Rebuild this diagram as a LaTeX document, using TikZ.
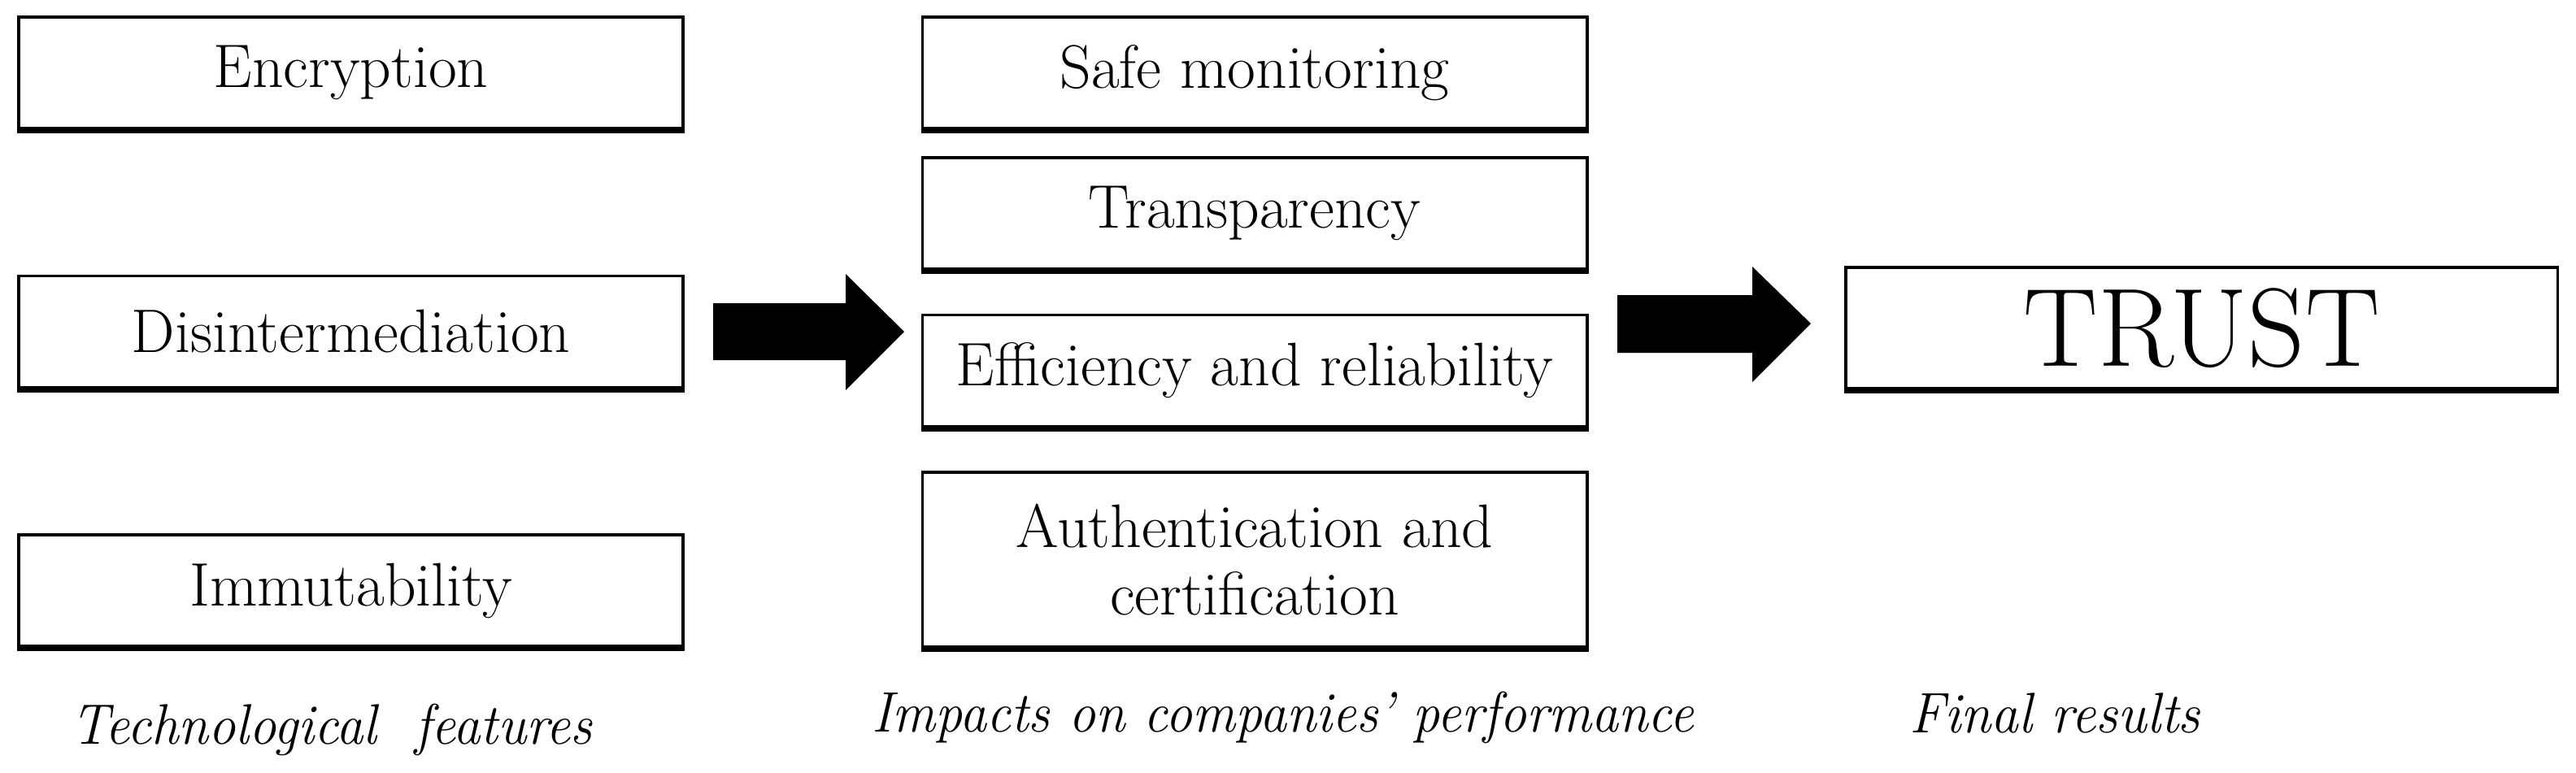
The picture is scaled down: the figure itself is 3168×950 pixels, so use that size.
\documentclass[tikz,border=0pt]{standalone}
\begin{document}
\begin{tikzpicture}[x=0.01cm,y=-0.01cm,
  box/.style={draw, line width=1pt, minimum width=8.17cm, minimum height=1.37cm, inner sep=0pt, align=center, font=\fontsize{21.5}{23.5}\selectfont},
  caption/.style={anchor=base, font=\fontsize{20}{24}\selectfont\itshape},
  blockarrow/.style={fill=black}]
\useasboundingbox (0,0) rectangle (3168,950);
% column 1
\node[box] (enc) at (431.5,89.5) {Encryption};
\node[box] (dis) at (431.5,408) {Disintermediation};
\node[box] (imm) at (431.5,726.5) {Immutability};
% column 2
\node[box] (saf) at (1543,89.5) {Safe monitoring};
\node[box] (tra) at (1543,262.5) {Transparency};
\node[box] (eff) at (1543,456) {Efficiency and reliability};
\node[box, minimum height=2.15cm] (aut) at (1543,688.5) {Authentication and\\certification};
% column 3
\node[box, minimum width=8.75cm, minimum height=1.49cm, font=\fontsize{39}{44}\selectfont] (tru) at (2707.5,403.5) {TRUST};
% heavier bottom edges
\foreach \n in {enc,dis,imm,saf,tra,eff,aut,tru}
  \draw[line width=1.6pt] ([yshift=-0.4pt]\n.south west) -- ([yshift=-0.4pt]\n.south east);
% block arrows
\fill[blockarrow] (877,373) -- (1040,373) -- (1040,337) -- (1112,408) -- (1040,480) -- (1040,443) -- (877,443) -- cycle;
\fill[blockarrow] (1989,363) -- (2155,363) -- (2155,328) -- (2227,398) -- (2155,470) -- (2155,434) -- (1989,434) -- cycle;
% captions
\node[caption] (c1) at (408,915) {\scalebox{0.95}[1]{Technological\ \ features}};
\node[caption] (c2) at (1578,900) {\scalebox{0.94}[1]{Impacts on companies' performance}};
\node[caption] (c3) at (2527,901) {\scalebox{0.96}[1]{Final results}};
\end{tikzpicture}
\end{document}
